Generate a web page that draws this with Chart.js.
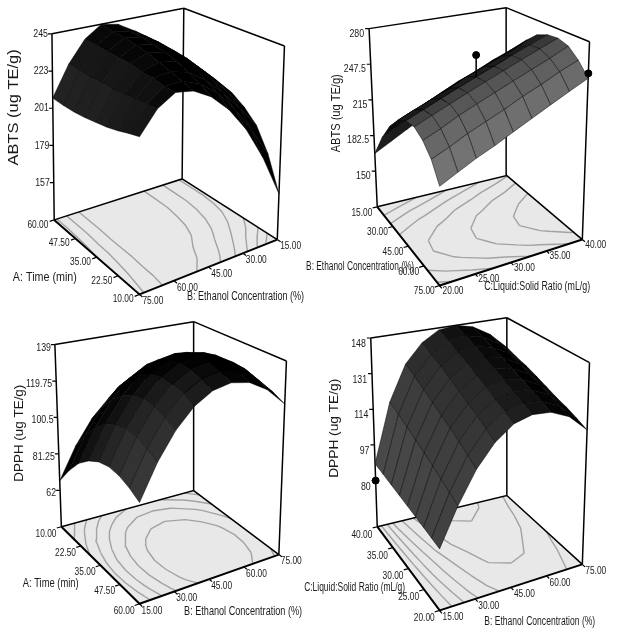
<!DOCTYPE html>
<html>
<head>
<meta charset="utf-8">
<script src="https://cdn.jsdelivr.net/npm/chart.js@4.4.1/dist/chart.umd.min.js"></script>
<style>
html,body{margin:0;padding:0;background:#fff;}
#wrap{width:625px;height:640px;}
</style>
</head>
<body>
<div id="wrap"><canvas id="c" width="625" height="640"></canvas></div>
<script>
// ---- values ----

// top left: ABTS vs A: Time and B: Ethanol (rows = time, cols = ethanol)
const tlTime = [10, 16.25, 22.5, 28.75, 35, 41.25, 47.5, 53.75, 60];
const tlEthanol = [15, 22.5, 30, 37.5, 45, 52.5, 60, 67.5, 75];
const tlAbts = [
  [161, 185, 204, 218, 228, 234, 236, 230, 218],
  [180, 197, 212, 224, 232, 236, 236, 229, 216],
  [193, 206, 218, 228, 235, 238, 237, 228, 213.5],
  [200, 212, 223, 232, 238, 240, 237, 227, 211.5],
  [205, 216, 226, 235, 240, 242, 238, 226, 210],
  [207, 218, 228, 236, 241, 243, 238, 226, 208.5],
  [208, 219, 229, 237, 242, 244, 238, 225, 207.5],
  [208, 219, 229, 237, 242, 244, 238, 225, 207],
  [208, 219, 229, 237, 243, 245, 238, 225, 207]
];
const tlZTicks = [157, 179, 201, 223, 245];
const tlTimeTicks = [10, 22.5, 35, 47.5, 60];
const tlEthanolTicks = [15, 30, 45, 60, 75];
const tlLevels = [177, 188, 199, 210, 221, 232];

// top right: ABTS vs B: Ethanol and C: Liquid:Solid ratio (rows = ratio, cols = ethanol)
const trEthanol = [15, 22.5, 30, 37.5, 45, 52.5, 60, 67.5, 75];
const trRatio = [20, 22.5, 25, 27.5, 30, 32.5, 35, 37.5, 40];
const trAbts = [
  [166, 188, 205, 217, 223, 224, 219, 210, 195],
  [174, 196, 212, 223, 229, 230, 225, 216, 202],
  [182, 203, 218, 229, 235, 236, 232, 223, 209],
  [190, 210, 225, 235, 241, 242, 238, 229, 215],
  [198, 217, 232, 242, 247, 248, 244, 235, 222],
  [206, 224, 238, 248, 253, 254, 250, 242, 229],
  [213, 231, 245, 254, 259, 260, 256, 248, 236],
  [221, 238, 251, 260, 265, 266, 262, 255, 243],
  [229, 246, 258, 267, 271, 272, 269, 261, 250]
];
const trZTicks = [150, 182.5, 215, 247.5, 280];
const trEthanolTicks = [15, 30, 45, 60, 75];
const trRatioTicks = [20, 25, 30, 35, 40];
const trLevels = [185, 200, 215, 230, 245, 260];
const trPtEthanol = [45, 75];
const trPtRatio = [30, 40];
const trPtAbts = [266, 254];

// bottom left: DPPH vs A: Time and B: Ethanol (rows = time, cols = ethanol)
const blTime = [10, 16.25, 22.5, 28.75, 35, 41.25, 47.5, 53.75, 60];
const blEthanol = [15, 22.5, 30, 37.5, 45, 52.5, 60, 67.5, 75];
const blDpph = [
  [67, 83.3, 96, 105.1, 110.4, 112, 109.9, 104.1, 94.6],
  [77, 93.3, 106, 115.1, 120.4, 122, 119.9, 114.1, 104.6],
  [85, 101.3, 114, 123.1, 128.4, 130, 127.9, 122.1, 112.6],
  [90.4, 106.8, 119.5, 128.6, 133.9, 135.5, 133.4, 127.6, 118.1],
  [93.9, 110.3, 123, 132.1, 137.4, 139, 136.9, 131.1, 121.6],
  [95.4, 111.8, 124.5, 133.6, 138.9, 140.5, 138.4, 132.6, 123.1],
  [94.9, 111.3, 124, 133.1, 138.4, 140, 137.9, 132.1, 122.6],
  [92.9, 109.3, 122, 131.1, 136.4, 138, 135.9, 130.1, 120.6],
  [89.9, 106.3, 119, 128.1, 133.4, 135, 132.9, 127.1, 117.6]
];
const blZTicks = [62, 81.25, 100.5, 119.75, 139];
const blTimeTicks = [10, 22.5, 35, 47.5, 60];
const blEthanolTicks = [15, 30, 45, 60, 75];
const blLevels = [80, 90, 100, 110, 120, 130];

// bottom right: DPPH vs C: Liquid:Solid ratio and B: Ethanol (rows = ratio, cols = ethanol)
const brRatio = [20, 22.5, 25, 27.5, 30, 32.5, 35, 37.5, 40];
const brEthanol = [15, 22.5, 30, 37.5, 45, 52.5, 60, 67.5, 75];
const brDpph = [
  [84, 100, 113.5, 123, 129, 131, 130, 126, 118],
  [84.5, 102, 116, 125.5, 131.5, 133, 132, 128, 120],
  [85, 104, 118.5, 128, 133.5, 135, 134, 130, 122],
  [85.5, 106, 121, 130, 136, 137.5, 136, 131.5, 123.5],
  [86, 108, 123, 132.5, 138, 139.5, 138, 133.5, 125.5],
  [86.5, 110, 125.5, 135, 140.5, 141.5, 140, 135.5, 127.5],
  [87, 112, 128, 137.5, 142.5, 144, 142, 137.5, 129.5],
  [87.5, 114, 130.5, 139.5, 145, 146, 144, 139, 131],
  [88, 116, 133, 142, 147, 148, 146, 141, 133]
];
const brZTicks = [80, 97, 114, 131, 148];
const brRatioTicks = [20, 25, 30, 35, 40];
const brEthanolTicks = [15, 30, 45, 60, 75];
const brLevels = [95, 105, 115, 125, 135, 145];
const brPtRatio = [40];
const brPtEthanol = [15];
const brPtDpph = [80];

// ---- layout of each box: floor corners L,F,R,K(back) and top corners, page px ----
const panels = [
  { uVals: tlTime, uFrom: 60, uTo: 10, vVals: tlEthanol, vFrom: 75, vTo: 15,
    z: (i, j) => tlAbts[i][j], zMin: 135, zMax: 245, zTicks: tlZTicks,
    uTicks: tlTimeTicks, vTicks: tlEthanolTicks, levels: tlLevels, pts: null, ink: 3.6,
    L: [50, 218.3], F: [136.7, 294], R: [276.7, 238.3], K: [180, 176.7],
    Lt: [47.7, 29.3], Ft: [136.7, 81.8], Rt: [284, 41.7], Kt: [181.7, 3.3],
    zLab: [-4, 0], uLab: [-6, 5], vLab: [3, 7],
    uTitle: ['A: Time (min)', 8, 277, 64], vTitle: ['B: Ethanol Concentration (%)', 185, 296, 117],
    zTitle: ['ABTS (ug TE/g)', 9, 104, 116, 14] },
  { uVals: trEthanol, uFrom: 15, uTo: 75, vVals: trRatio, vFrom: 20, vTo: 40,
    z: (i, j) => trAbts[j][i], zMin: 117.5, zMax: 280, zTicks: trZTicks,
    uTicks: trEthanolTicks, vTicks: trRatioTicks, levels: trLevels, ink: 1.7,
    pts: { u: trPtEthanol, v: trPtRatio, z: trPtAbts },
    L: [378.3, 205], F: [441.7, 285], R: [586.7, 238.3], K: [510, 173.3],
    Lt: [370, 24], Ft: [441.7, 73.6], Rt: [594, 37.3], Kt: [509.3, 2.7],
    zLab: [-5, 5], uLab: [-5, 6], vLab: [3, 5],
    uTitle: ['B: Ethanol Concentration (%)', 306, 266, 108], vTitle: ['C:Liquid:Solid Ratio (mL/g)', 487, 286, 106],
    zTitle: ['ABTS (ug TE/g)', 337, 110, 78, 12] },
  { uVals: blTime, uFrom: 10, uTo: 60, vVals: blEthanol, vFrom: 15, vTo: 75,
    z: (i, j) => blDpph[i][j], zMin: 42.75, zMax: 139, zTicks: blZTicks,
    uTicks: blTimeTicks, vTicks: blEthanolTicks, levels: blLevels, pts: null, ink: 3.4,
    L: [57.3, 530], F: [136.7, 608.3], R: [278.3, 558.3], K: [191.7, 493.3],
    Lt: [50.7, 345], Ft: [136.7, 398.3], Rt: [286, 361.7], Kt: [191.7, 321.7],
    zLab: [-4, 3], uLab: [-5, 7], vLab: [2, 7],
    uTitle: ['A: Time (min)', 18, 588, 56], vTitle: ['B: Ethanol Concentration (%)', 182, 616, 118],
    zTitle: ['DPPH (ug TE/g)', 15, 435, 97, 13] },
  { uVals: brRatio, uFrom: 40, uTo: 20, vVals: brEthanol, vFrom: 15, vTo: 75,
    z: (i, j) => brDpph[i][j], zMin: 58, zMax: 148, zTicks: brZTicks,
    uTicks: brRatioTicks, vTicks: brEthanolTicks, levels: brLevels, ink: 2.9,
    pts: { u: brPtRatio, v: brPtEthanol, z: brPtDpph },
    L: [378.3, 530], F: [441.7, 615], R: [586.7, 568.3], K: [510, 498.3],
    Lt: [371.7, 338.3], Ft: [441.7, 398.9], Rt: [594, 363.3], Kt: [510, 317.7],
    zLab: [-5, 6], uLab: [-5, 8], vLab: [3, 7],
    uTitle: ['C:Liquid:Solid Ratio (mL/g)', 304, 592, 101], vTitle: ['B: Ethanol Concentration (%)', 487, 626, 111],
    zTitle: ['DPPH (ug TE/g)', 335, 430, 99, 13] }
];

function uOf(P, val) { return (val - P.uFrom) / (P.uTo - P.uFrom); }
function vOf(P, val) { return (val - P.vFrom) / (P.vTo - P.vFrom); }
function wOf(P, val) { return (val - P.zMin) / (P.zMax - P.zMin); }

// bilinear floor + top, vertical blend
function proj(P, u, v, w) {
  const a = (1 - u) * (1 - v), b = u * (1 - v), c = u * v, d = (1 - u) * v;
  const bx = P.L[0] * a + P.F[0] * b + P.R[0] * c + P.K[0] * d;
  const by = P.L[1] * a + P.F[1] * b + P.R[1] * c + P.K[1] * d;
  const tx = P.Lt[0] * a + P.Ft[0] * b + P.Rt[0] * c + P.Kt[0] * d;
  const ty = P.Lt[1] * a + P.Ft[1] * b + P.Rt[1] * c + P.Kt[1] * d;
  return { x: bx + (tx - bx) * w, y: by + (ty - by) * w };
}
const GAP = { x: NaN, y: NaN };
function area(p) {
  let s = 0;
  for (let k = 0; k < p.length; k++) {
    const q = p[(k + 1) % p.length];
    s += p[k].x * q.y - q.x * p[k].y;
  }
  return s / 2;
}

const layers = [];
function line(data, color, width) {
  layers.push({ data, showLine: true, pointRadius: 0, borderColor: color, borderWidth: width,
    fill: false, clip: false, spanGaps: false });
}
function poly(data, fillColor, stroke, width) {
  layers.push({ data: data.concat([data[0]]), showLine: true, pointRadius: 0, fill: 'shape',
    backgroundColor: fillColor, borderColor: stroke, borderWidth: width, clip: false });
}

panels.forEach(P => {
  const nu = P.uVals.length, nv = P.vVals.length;
  const f00 = proj(P, 0, 0, 0), f10 = proj(P, 1, 0, 0), f11 = proj(P, 1, 1, 0), f01 = proj(P, 0, 1, 0);
  const t00 = proj(P, 0, 0, 1), t11 = proj(P, 1, 1, 1), t01 = proj(P, 0, 1, 1);

  // floor
  poly([f00, f10, f11, f01], '#e8e8e8', 'rgba(0,0,0,0)', 0);

  // contours on the floor
  P.levels.forEach(lv => {
    const seg = [];
    for (let i = 0; i < nu - 1; i++) for (let j = 0; j < nv - 1; j++) {
      const c = [[i, j], [i + 1, j], [i + 1, j + 1], [i, j + 1]];
      const zs = c.map(([a, b]) => P.z(a, b));
      const hit = [];
      for (let k = 0; k < 4; k++) {
        const z1 = zs[k], z2 = zs[(k + 1) % 4];
        if ((z1 < lv) !== (z2 < lv)) {
          const t = (lv - z1) / (z2 - z1);
          const [a1, b1] = c[k], [a2, b2] = c[(k + 1) % 4];
          const u1 = uOf(P, P.uVals[a1]), v1 = vOf(P, P.vVals[b1]);
          const u2 = uOf(P, P.uVals[a2]), v2 = vOf(P, P.vVals[b2]);
          hit.push(proj(P, u1 + (u2 - u1) * t, v1 + (v2 - v1) * t, 0));
        }
      }
      for (let k = 0; k + 1 < hit.length; k += 2) seg.push(hit[k], hit[k + 1], GAP);
    }
    line(seg, '#a2a2a2', 1.4);
  });

  // back box lines
  line([f00, t00, GAP, t00, t01, GAP, t01, t11, GAP, f01, t01, GAP, f11, t11, GAP, f00, f01, f11], '#000', 1.5);
  // front axis lines
  line([f00, f10, f11], '#000', 2);

  // ticks
  const tk = [];
  P.zTicks.forEach(t => { const p = proj(P, 0, 0, wOf(P, t)); tk.push(p, { x: p.x - 4, y: p.y }, GAP); });
  P.uTicks.forEach(t => { const u = uOf(P, t); tk.push(proj(P, u, 0, 0), proj(P, u, -0.035, 0), GAP); });
  P.vTicks.forEach(t => { const v = vOf(P, t); tk.push(proj(P, 1, v, 0), proj(P, 1.035, v, 0), GAP); });
  line(tk, '#000', 1.2);

  // surface quads, painted far to near; darker where the dense mesh is foreshortened
  const quads = [];
  for (let i = 0; i < nu - 1; i++) for (let j = 0; j < nv - 1; j++) {
    const idx = [[i, j], [i + 1, j], [i + 1, j + 1], [i, j + 1]];
    const uv = idx.map(([a, b]) => [uOf(P, P.uVals[a]), vOf(P, P.vVals[b]), wOf(P, P.z(a, b))]);
    const pts = uv.map(q => proj(P, q[0], q[1], q[2]));
    const base = uv.map(q => proj(P, q[0], q[1], 0));
    const uc = (uv[0][0] + uv[2][0]) / 2, vc = (uv[0][1] + uv[2][1]) / 2;
    quads.push({ pts, depth: (1 - uc) + vc, A: area(pts), B: area(base) });
  }
  quads.sort((p, q) => q.depth - p.depth);
  quads.forEach(q => {
    const s = Math.sqrt(Math.abs(q.A)) / 3.75;
    const open = Math.max(0, 1 - P.ink / Math.max(s, 0.01));
    let g = Math.round(210 * open * open);
    if (Math.sign(q.A) !== Math.sign(q.B)) g = Math.round(g * 0.5);
    poly(q.pts, `rgb(${g},${g},${g})`, 'rgba(0,0,0,0.8)', 0.6);
  });

  // design points
  if (P.pts) {
    const dots = [];
    P.pts.z.forEach((zv, k) => {
      const u = uOf(P, P.pts.u[k]), v = vOf(P, P.pts.v[k]);
      const p = proj(P, u, v, wOf(P, zv));
      const a = P.uVals.indexOf(P.pts.u[k]), b = P.vVals.indexOf(P.pts.v[k]);
      if (a >= 0 && b >= 0 && P.z(a, b) < zv) line([p, proj(P, u, v, wOf(P, P.z(a, b)))], '#000', 1.5);
      dots.push(p);
    });
    layers.push({ data: dots, showLine: false, pointRadius: 3.5, pointBackgroundColor: '#000',
      pointBorderColor: '#000', clip: false });
  }
});

// first layer drawn first
const N = layers.length;
layers.forEach((d, k) => { d.order = N - k; d.type = 'scatter'; });

function put(ctx, s, x, y, align, size, sx, width) {
  ctx.save();
  ctx.font = size + 'px "Liberation Sans", Arial, sans-serif';
  ctx.textBaseline = 'middle';
  ctx.textAlign = align;
  const w = ctx.measureText(s).width;
  ctx.translate(x, y);
  ctx.scale(width ? width / w : sx, 1);
  ctx.fillText(s, 0, 0);
  ctx.restore();
}
function putV(ctx, s, cx, cy, size, len) {
  ctx.save();
  ctx.font = size + 'px "Liberation Sans", Arial, sans-serif';
  ctx.textBaseline = 'middle';
  ctx.textAlign = 'center';
  const w = ctx.measureText(s).width;
  ctx.translate(cx, cy);
  ctx.rotate(-Math.PI / 2);
  ctx.scale(len / w, 1);
  ctx.fillText(s, 0, 0);
  ctx.restore();
}

const labels3d = {
  id: 'labels3d',
  afterDatasetsDraw(chart) {
    const ctx = chart.ctx, xs = chart.scales.x, ys = chart.scales.y;
    const X = v => xs.getPixelForValue(v), Y = v => ys.getPixelForValue(v);
    ctx.save();
    ctx.fillStyle = '#1a1a1a';
    panels.forEach(P => {
      P.zTicks.forEach(t => {
        const p = proj(P, 0, 0, wOf(P, t));
        put(ctx, String(t), X(p.x + P.zLab[0]), Y(p.y + P.zLab[1]), 'right', 11, 0.8);
      });
      P.uTicks.forEach(t => {
        const p = proj(P, uOf(P, t), 0, 0);
        put(ctx, t.toFixed(2), X(p.x + P.uLab[0]), Y(p.y + P.uLab[1]), 'right', 11, 0.76);
      });
      P.vTicks.forEach(t => {
        const p = proj(P, 1, vOf(P, t), 0);
        put(ctx, t.toFixed(2), X(p.x + P.vLab[0]), Y(p.y + P.vLab[1]), 'left', 11, 0.76);
      });
      put(ctx, P.uTitle[0], X(P.uTitle[1]), Y(P.uTitle[2]), 'left', 12, 1, P.uTitle[3]);
      put(ctx, P.vTitle[0], X(P.vTitle[1]), Y(P.vTitle[2]), 'left', 12, 1, P.vTitle[3]);
      putV(ctx, P.zTitle[0], X(P.zTitle[1]), Y(P.zTitle[2]), P.zTitle[4], P.zTitle[3]);
    });
    ctx.restore();
  }
};

new Chart(document.getElementById('c'), {
  type: 'scatter',
  data: { datasets: layers },
  options: {
    responsive: false,
    animation: false,
    events: [],
    layout: { padding: 0 },
    scales: {
      x: { type: 'linear', min: 0, max: 625, display: false },
      y: { type: 'linear', min: 0, max: 640, reverse: true, display: false }
    },
    elements: { line: { tension: 0 } },
    plugins: { legend: { display: false }, tooltip: { enabled: false } }
  },
  plugins: [labels3d]
});
</script>
</body>
</html>
